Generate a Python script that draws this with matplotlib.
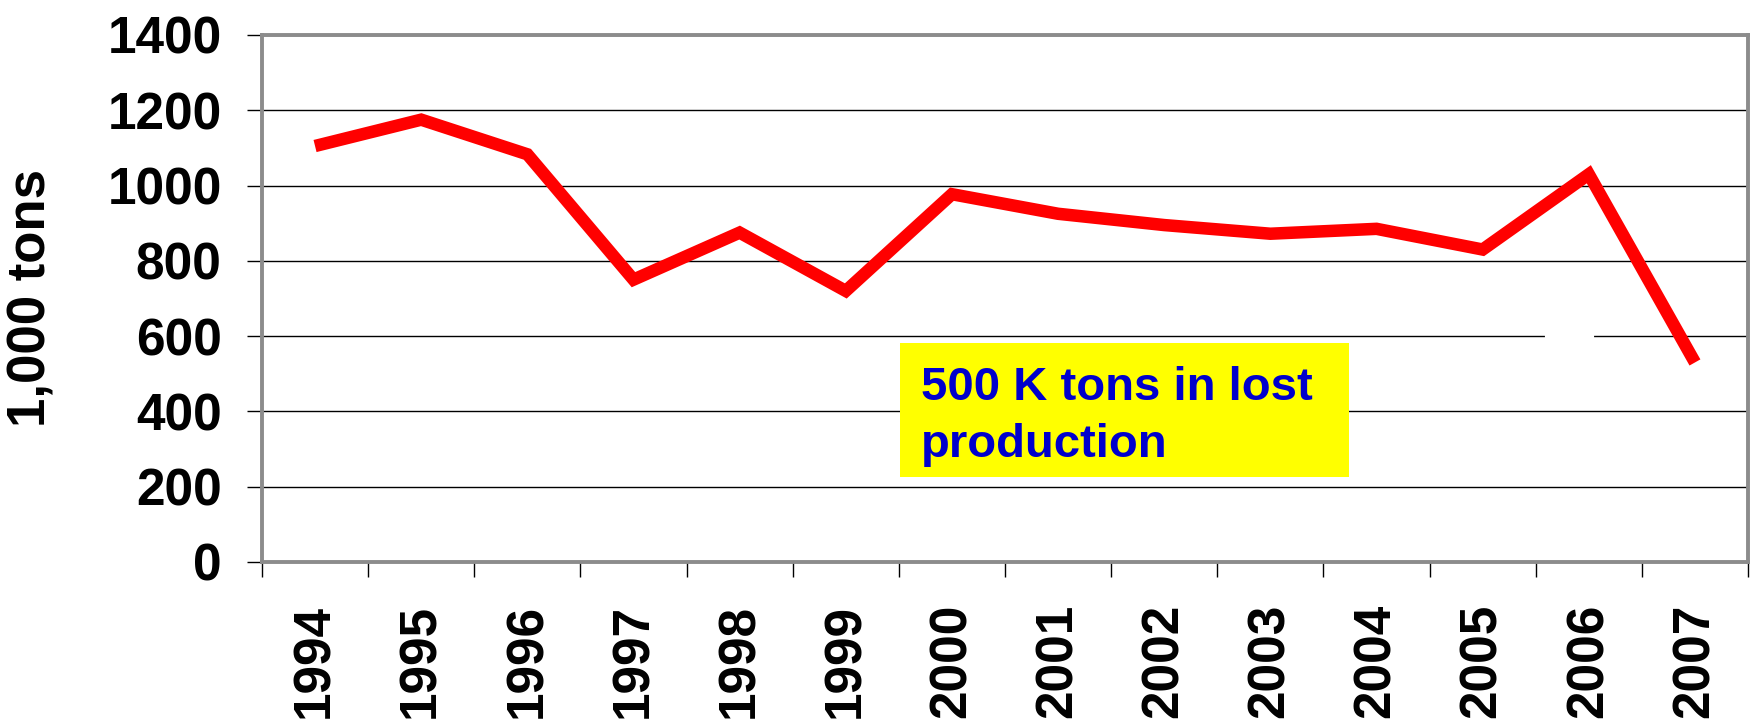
import numpy as np
import matplotlib
matplotlib.use("Agg")
import matplotlib.pyplot as plt
from matplotlib.patches import Rectangle

plt.rcParams['font.family'] = ['Liberation Sans', 'DejaVu Sans']
plt.rcParams['font.weight'] = 'bold'

# --- data ---
years = ["1994", "1995", "1996", "1997", "1998", "1999", "2000",
         "2001", "2002", "2003", "2004", "2005", "2006", "2007"]
production = [1105, 1175, 1083, 750, 875, 720, 977,
              925, 895, 872, 885, 830, 1030, 530]
y_ticks = [0, 200, 400, 600, 800, 1000, 1200, 1400]
note_lines = ["500 K tons in lost", "production"]

# --- figure ---
fig = plt.figure(figsize=(17.57, 7.24), dpi=100)
ax = fig.add_axes([0.1491, 0.2238, 0.9949 - 0.1491, 0.9517 - 0.2238])

x = np.arange(len(years))
ax.plot(x, production, color="#ff0000", lw=9,
        solid_joinstyle="miter", solid_capstyle="butt", zorder=3)

ax.set_xlim(-0.5, len(years) - 0.5)
ax.set_ylim(0, 1400)

# ticks between categories, labels at centres
ax.set_xticks(np.arange(len(years) + 1) - 0.5)
ax.set_xticklabels([])
ax.set_xticks(x, labels=years, minor=True)
ax.tick_params(axis="x", which="major", length=11, width=1, color="black")
ax.tick_params(axis="x", which="minor", length=0, pad=30, labelsize=37,
               labelrotation=90)

ax.set_yticks(y_ticks)
ax.tick_params(axis="y", length=11, width=1, color="black", pad=18,
               labelsize=37)

ax.yaxis.grid(True, color="black", lw=1)
ax.set_axisbelow(True)

for s in ax.spines.values():
    s.set_color("#8c8c8c")
    s.set_linewidth(2.8)

# small white gap on the 600 line (as in the original)
ax.axhline(600, xmin=0.865, xmax=0.895, color="white", lw=3, zorder=2)

# --- note box ---
ax.add_patch(Rectangle((0.4293, 0.1613), 0.7315 - 0.4293, 0.4156 - 0.1613,
                       transform=ax.transAxes, facecolor="#ffff00",
                       edgecolor="none", zorder=2))
ax.text(0.4435, 0.3074, note_lines[0], transform=ax.transAxes,
        color="#0000cc", fontsize=34, va="baseline", ha="left", zorder=4)
ax.text(0.4435, 0.1992, note_lines[1], transform=ax.transAxes,
        color="#0000cc", fontsize=34, va="baseline", ha="left", zorder=4)

fig.text(32 / 1757, 1 - 298 / 724, "1,000 tons", rotation=90,
         ha="center", va="center", fontsize=38)

fig.savefig("out.png", dpi=100)
